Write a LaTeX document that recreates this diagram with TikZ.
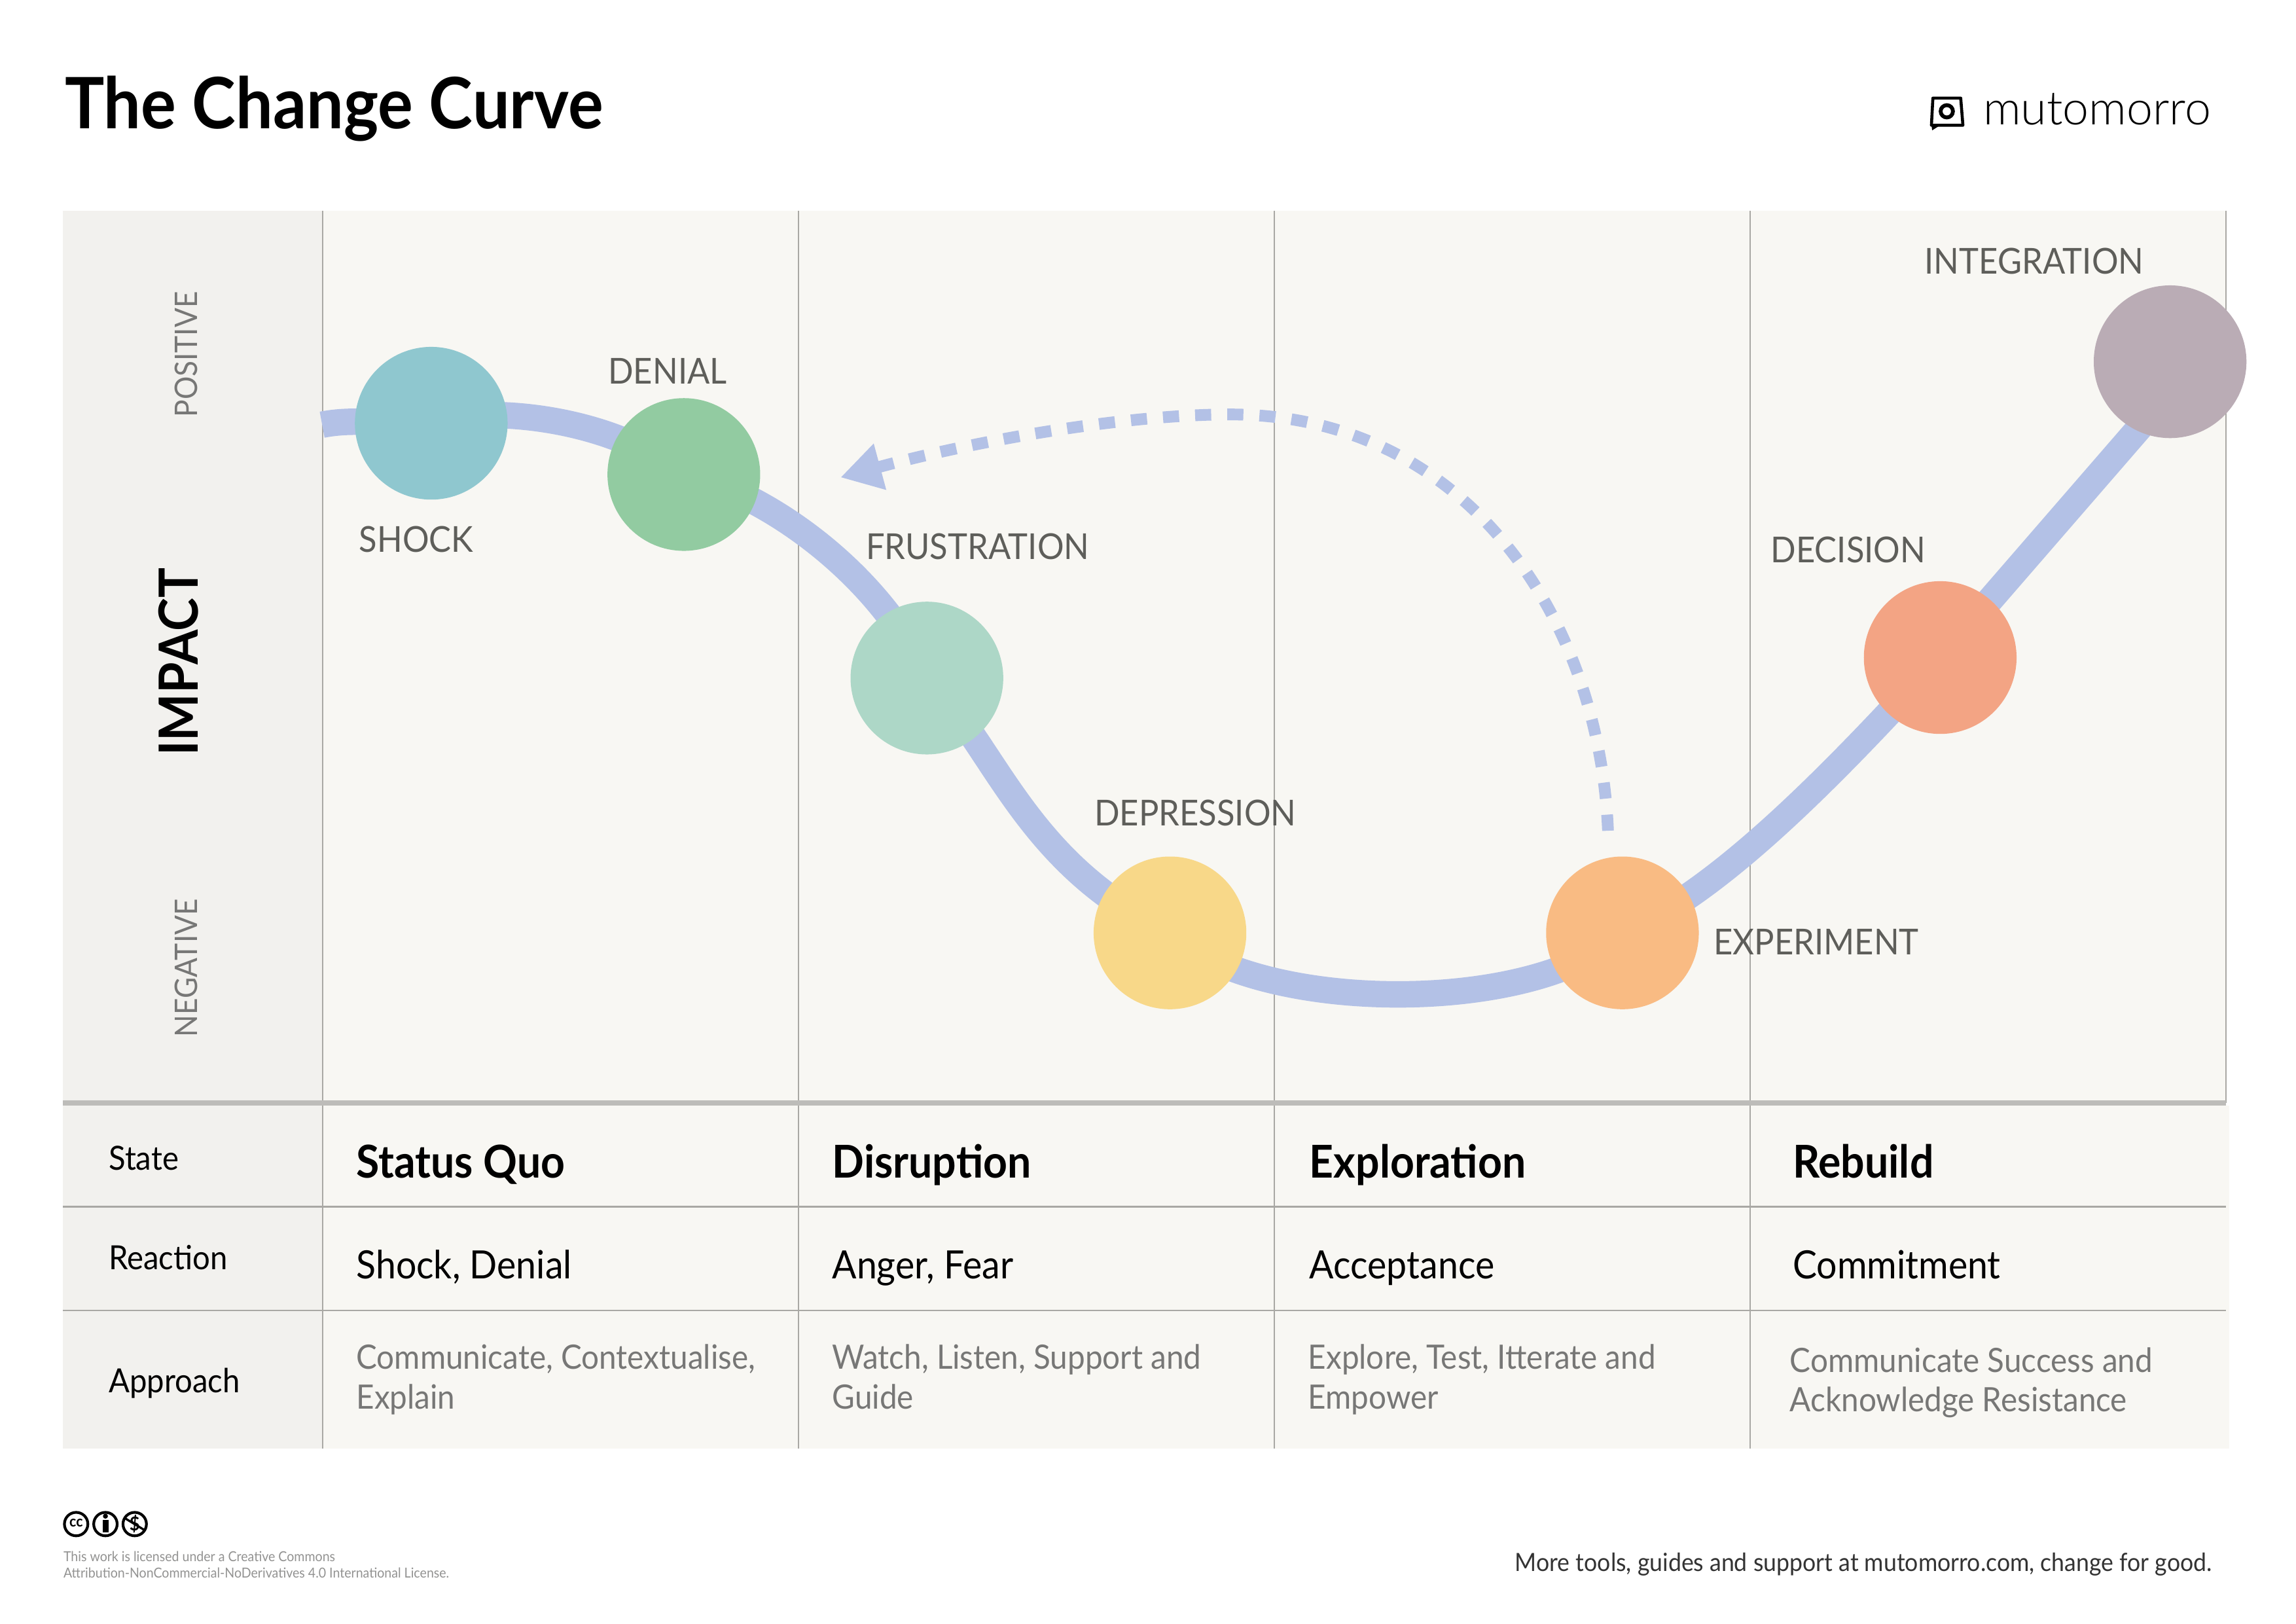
\documentclass[tikz,border=0pt]{standalone}
\usepackage{fontspec}
\setmainfont{Lato}[FakeStretch=0.93]
\newfontfamily\logofont{Lato Light}
\usetikzlibrary{arrows.meta}
\definecolor{panelbg}{HTML}{F8F7F3}
\definecolor{sidebg}{HTML}{F2F1EE}
\definecolor{gridline}{HTML}{A9A8A4}
\definecolor{heavyline}{HTML}{BDBCB9}
\definecolor{curveblue}{HTML}{B3C1E6}
\definecolor{labelgrey}{HTML}{5E5E5A}
\definecolor{notegrey}{HTML}{777776}
\definecolor{shockc}{HTML}{8FC7CF}
\definecolor{denialc}{HTML}{92CBA1}
\definecolor{frustc}{HTML}{ADD7C7}
\definecolor{depressc}{HTML}{F8D889}
\definecolor{experc}{HTML}{F9BB83}
\definecolor{decisc}{HTML}{F3A484}
\definecolor{integc}{HTML}{BAACB5}
\pgfdeclarelayer{back}
\pgfsetlayers{back,main}
\tikzset{
  stagedot/.style={circle,inner sep=0pt,minimum size=56pt},
  curvelabel/.style={anchor=base west,inner sep=0pt,text=labelgrey,font=\fontsize{13.1}{15}\selectfont},
  sidelabel/.style={rotate=90,inner sep=0pt,text=notegrey,font=\fontsize{11.4}{13}\selectfont},
  rowlabel/.style={anchor=base west,inner sep=0pt,font=\fontsize{12.2}{14}\selectfont},
  cellhead/.style={anchor=base west,inner sep=0pt,font=\fontsize{16.6}{18}\selectfont\bfseries},
  cellmain/.style={anchor=base west,inner sep=0pt,font=\fontsize{14.3}{18}\selectfont},
  cellnote/.style={anchor=base west,inner sep=0pt,align=left,text=notegrey,font=\fontsize{12.3}{14.5}\selectfont},
  ccring/.style={circle,draw=black,line width=1pt,inner sep=0pt,minimum size=8.6pt},
}
\begin{document}
\begin{tikzpicture}[x=0.537pt,y=-0.537pt]
\useasboundingbox (0,0) rectangle (1568,1108.9);

% panels and grid
\begin{pgfonlayer}{back}
\fill [panelbg] (220,144) rectangle (1520,755);
\fill [panelbg] (220,755) rectangle (1522.5,989);
\fill [sidebg] (43,144) rectangle (220,989);
\foreach \x in {220.3,545.3,870.3,1195.3}
  \draw [gridline,line width=0.5pt] (\x,144) -- (\x,989);
\draw [gridline,line width=0.5pt] (1520,144) -- (1520,753);
\foreach \y in {824,895}
  \draw [gridline,line width=0.5pt] (43,\y) -- (1520,\y);
\draw [heavyline,line width=1.9pt] (43,753) -- (1520,753);
\end{pgfonlayer}

\node [anchor=base west,inner sep=0pt,font=\fontsize{26}{30}\selectfont\bfseries] (title) at (44,88) {The Change Curve};

% logo
\draw [line width=1.1pt,line join=round] (1320,67) -- (1339,67) -- (1340.5,85.5) -- (1319,85.5) -- cycle;
\fill (1319,85) -- (1319.5,89) -- (1325,85.5) -- cycle;
\draw [line width=1.4pt] (1329.5,76) circle (4.2);
\node [anchor=base west,inner sep=0pt,font=\logofont\fontsize{17.2}{20}\selectfont] (brand) at (1354,85) {mutomorro};

% side labels
\node [sidelabel] (positive) at (127,242) {POSITIVE};
\node [sidelabel] (negative) at (127,661) {NEGATIVE};
\node [rotate=90,inner sep=0pt,font=\fontsize{19.8}{22}\selectfont\bfseries] (impact) at (122,452) {IMPACT};

% stages
\node [stagedot,fill=shockc] (shock) at (294.5,289) {};
\node [stagedot,fill=denialc] (denial) at (467,324) {};
\node [stagedot,fill=frustc] (frustration) at (633,463) {};
\node [stagedot,fill=depressc] (depression) at (799,637) {};
\node [stagedot,fill=experc] (experiment) at (1108,637) {};
\node [stagedot,fill=decisc] (decision) at (1325,449) {};
\node [stagedot,fill=integc] (integration) at (1482,247) {};

\node [curvelabel] (shocklabel) at (245,377) {SHOCK};
\node [curvelabel] (deniallabel) at (415,262) {DENIAL};
\node [curvelabel] (frustrationlabel) at (591,382) {FRUSTRATION};
\node [curvelabel] (depressionlabel) at (747,564) {DEPRESSION};
\node [curvelabel] (experimentlabel) at (1170,652) {EXPERIMENT};
\node [curvelabel] (decisionlabel) at (1209,384) {DECISION};
\node [curvelabel] (integrationlabel) at (1314,187) {INTEGRATION};

% the curve and the way back
\coordinate (curvestart) at (220,290);
\coordinate (curvebend) at (1475,276);
\coordinate (returntip) at (574,326);
\begin{pgfonlayer}{back}
\draw [curveblue,line width=9.7pt,line join=round]
  (curvestart) .. controls (245,285) and (270,291) .. (shock.center)
  .. controls (320,278) and (410,280) .. (denial.center)
  .. controls (520,335) and (600,390) .. (frustration.center)
  .. controls (680,510) and (700,590) .. (depression.center)
  .. controls (860,693) and (1050,693) .. (experiment.center)
  .. controls (1175,610) and (1260,520) .. (decision.center)
  -- (curvebend) -- (integration.center);
\draw [curveblue,line width=4.3pt,dash pattern=on 5.9pt off 5.9pt,shorten <=9.7pt,-{Triangle[length=15pt,width=16.5pt]}]
  (experiment.100) .. controls (1092,420) and (1000,283) .. (840,283)
  .. controls (770,283) and (670,300) .. (returntip);
\end{pgfonlayer}

% table
\node [rowlabel] (staterow) at (74,799) {State};
\node [rowlabel] (reactionrow) at (74,867) {Reaction};
\node [rowlabel] (approachrow) at (74,951) {Approach};

\foreach \n/\x/\head/\react in {a/243/Status Quo/{Shock, Denial},b/568/Disruption/{Anger, Fear},c/894/Exploration/Acceptance,d/1224/Rebuild/Commitment} {
  \node [cellhead] (head\n) at (\x,804.5) {\head};
  \node [cellmain] (react\n) at (\x,873) {\react};
}

\node [cellnote] (notea) at (243,962) {Communicate, Contextualise,\\Explain};
\node [cellnote] (noteb) at (568,962) {Watch, Listen, Support and\\Guide};
\node [cellnote] (notec) at (893,962) {Explore, Test, Itterate and\\Empower};
\node [cellnote] (noted) at (1222,964) {Communicate Success and\\Acknowledge Resistance};

% footer
\node [ccring] (ccmark) at (52,1040.7) {};
\node [ccring] (bymark) at (72,1040.7) {};
\node [ccring] (ncmark) at (92,1040.7) {};
\node [inner sep=0pt,font=\fontsize{5.5}{6}\selectfont\bfseries] (cctext) at (52,1040) {cc};
\fill (72,1035.3) circle (1.7);
\fill (70,1038) rectangle (74,1046.5);
\node [inner sep=0pt,font=\fontsize{7}{8}\selectfont\bfseries] (nctext) at (92,1040.7) {\$};
\draw [line width=0.8pt] (85,1036.5) -- (99,1045);

\node [anchor=base west,inner sep=0pt,text=notegrey!80,font=\fontsize{5.05}{6.1}\selectfont,align=left] (licence) at (43,1077.6) {This work is licensed under a Creative Commons\\Attribution-NonCommercial-NoDerivatives 4.0 International License.};
\node [anchor=base east,inner sep=0pt,text=black!80,font=\fontsize{9.2}{11}\selectfont] (moretools) at (1511,1073) {More tools, guides and support at mutomorro.com, change for good.};

\end{tikzpicture}
\end{document}
